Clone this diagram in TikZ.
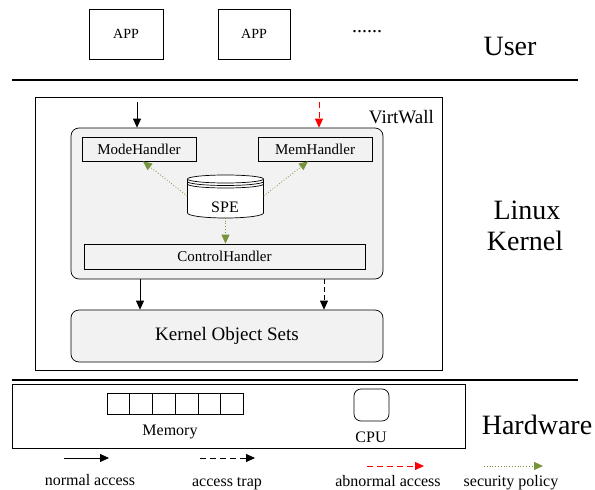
\documentclass[tikz,border=0pt]{standalone}
\usepackage{fontspec}
\setmainfont{Liberation Serif}
\usetikzlibrary{arrows.meta}
\definecolor{policygreen}{RGB}{119,147,60}
\definecolor{panelgray}{RGB}{242,242,242}
\tikzstyle{box}=[draw,line width=0.7pt,inner sep=0pt,font=\fontsize{15}{17}\selectfont]
\tikzstyle{panel}=[box,rounded corners=8pt,fill=panelgray]
\tikzstyle{lbl}=[inner sep=0pt,font=\fontsize{16}{18}\selectfont]
\tikzstyle{layer}=[inner sep=0pt,font=\fontsize{28}{30}\selectfont]
\tikzstyle{normalacc}=[line width=0.8pt,-{Triangle[length=9pt,width=8pt]}]
\tikzstyle{trapacc}=[normalacc,dash pattern=on 6pt off 4pt]
\tikzstyle{abnormacc}=[trapacc,red]
\tikzstyle{policyacc}=[normalacc,policygreen,dotted]

\begin{document}
\begin{tikzpicture}[x=1pt,y=-1pt]
    \useasboundingbox (0,0) rectangle (595,490);
    % user space
    \node[box,minimum width=74,minimum height=50,font=\fontsize{14}{16}\selectfont] (app1) at (126,34) {APP};
    \node[box,minimum width=72,minimum height=50,font=\fontsize{14}{16}\selectfont] (app2) at (254,34) {APP};
    \node[lbl,font=\fontsize{20}{22}\selectfont] (dots) at (367,32) {......};
    \node[layer] (user) at (510,46) {User};
    \draw[line width=2.5pt] (12,80) -- (578,80);

    % kernel
    \node[box,minimum width=407,minimum height=273] (virtwall) at (238.5,233.5) {};
    \node[lbl,anchor=east,font=\fontsize{19}{21}\selectfont] (vwlbl) at (434,117) {VirtWall};
    \node[panel,minimum width=312,minimum height=151] (core) at (227,203.5) {};
    \node[box,minimum width=114,minimum height=24] (modeh) at (139,149) {ModeHandler};
    \node[box,minimum width=114,minimum height=24] (memh) at (315,149) {MemHandler};
    \node[box,minimum width=281,minimum height=25] (ctrlh) at (224.5,256.5) {ControlHandler};
    \node[panel,minimum width=312,minimum height=52,font=\fontsize{19}{21}\selectfont] (kos) at (227,336) {Kernel Object Sets};

    % SPE store
    \draw[line width=0.7pt,fill=white] (187.5,179) -- (187.5,213) arc[start angle=180,end angle=360,x radius=38pt,y radius=5pt] -- (263.5,179);
    \draw[line width=0.7pt,fill=white] (225.5,179) ellipse [x radius=38pt,y radius=4pt];
    \draw[line width=0.7pt] (187.5,181.5) arc[start angle=180,end angle=360,x radius=38pt,y radius=4pt];
    \draw[line width=0.7pt] (187.5,184) arc[start angle=180,end angle=360,x radius=38pt,y radius=4pt];
    \node[minimum width=76,minimum height=43,inner sep=0pt] (spe) at (225.5,196) {};
    \node[lbl] (spetxt) at (225,207) {SPE};

    \node[layer] (linux) at (527,210) {Linux};
    \node[layer] (kernel) at (525,241) {Kernel};

    \coordinate (usrA) at (137,102);
    \coordinate (usrB) at (319,102);
    \draw[normalacc] (usrA) -- (usrA |- core.north);
    \draw[abnormacc] (usrB) -- (usrB |- core.north);
    \draw[policyacc] (spe.west) -- ([xshift=4pt]modeh.south);
    \draw[policyacc] (spe.east) -- ([xshift=-7pt]memh.south);
    \draw[policyacc] (spe.south) -- (spe.south |- ctrlh.north);
    \draw[normalacc] ([xshift=-87pt]core.south) -- ([xshift=-87pt]kos.north);
    \draw[normalacc,dash pattern=on 5pt off 3pt] ([xshift=97pt]core.south) -- ([xshift=97pt]kos.north);
    \draw[line width=2.5pt] (12,380) -- (578,380);

    % hardware
    \node[box,minimum width=453,minimum height=64] (hw) at (238.5,416) {};
    \foreach \i in {0,...,5}
    \node[box,minimum width=22.7,minimum height=21] (cell\i) at (118.4+22.7*\i,403.5) {};
    \node[lbl] (memlbl) at (170,432) {Memory};
    \node[box,rounded corners=7pt,minimum width=35,minimum height=32] (cpu) at (371.5,405) {};
    \node[lbl] (cpulbl) at (371,437) {CPU};
    \node[layer] (hwlbl) at (537,425) {Hardware};

    % legend
    \coordinate (lgA1) at (64,458);   \coordinate (lgA2) at (109,458);
    \coordinate (lgB1) at (200,458);  \coordinate (lgB2) at (255,458);
    \coordinate (lgC1) at (367,466);  \coordinate (lgC2) at (424,466);
    \coordinate (lgD1) at (484,466);  \coordinate (lgD2) at (543,466);
    \draw[normalacc] (lgA1) -- (lgA2);
    \draw[trapacc] (lgB1) -- (lgB2);
    \draw[abnormacc] (lgC1) -- (lgC2);
    \draw[policyacc] (lgD1) -- (lgD2);
    \node[lbl,anchor=base] (lgAtxt) at (90,485) {normal access};
    \node[lbl,anchor=base] (lgBtxt) at (227,486) {access trap};
    \node[lbl,anchor=base] (lgCtxt) at (388,486) {abnormal access};
    \node[lbl,anchor=base] (lgDtxt) at (511,486) {security policy};
\end{tikzpicture}
\end{document}
